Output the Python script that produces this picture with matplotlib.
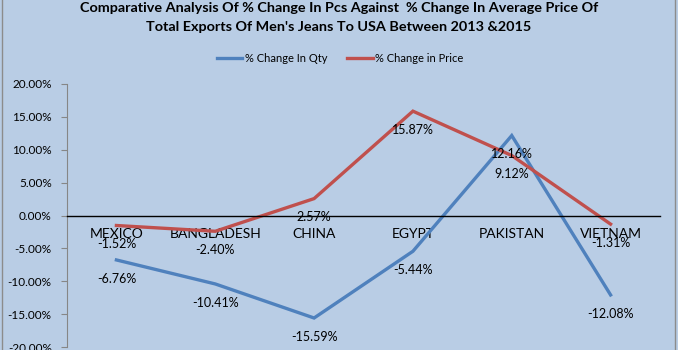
import matplotlib
matplotlib.use("Agg")
import matplotlib.pyplot as plt
from matplotlib.patches import Rectangle
from matplotlib.ticker import FuncFormatter

categories = ["MEXICO", "BANGLADESH", "CHINA", "EGYPT", "PAKISTAN", "VIETNAM"]
qty_change = [-6.76, -10.41, -15.59, -5.44, 12.16, -12.08]
price_change = [-1.52, -2.40, 2.57, 15.87, 9.12, -1.31]
yticks = [-20, -15, -10, -5, 0, 5, 10, 15, 20]

BG = "#B9CDE5"
BLUE = "#4F81BD"
RED = "#C0504D"
FONT = ["Lato", "DejaVu Sans"]

plt.rcParams['font.family'] = FONT

fig = plt.figure(figsize=(6.78, 3.5), dpi=100)
fig.patch.set_facecolor(BG)
fig.patches.append(Rectangle((0.003, -0.01), 0.993, 1.02, transform=fig.transFigure,
                             fill=False, edgecolor="#8C8C8C", linewidth=1.0))

W, H = 678, 350
left, right, top, bottom = 67, 660, 84, 347
ax = fig.add_axes([left / W, 1 - bottom / H, (right - left) / W, (bottom - top) / H])
ax.set_facecolor(BG)

x = list(range(len(categories)))
ax.plot(x, qty_change, color=BLUE, lw=2.4, label="% Change In Qty", solid_joinstyle="miter")
ax.plot(x, price_change, color=RED, lw=2.4, label="% Change in Price", solid_joinstyle="miter")

for xi, v in zip(x, qty_change):
    ax.annotate(f"{v:.2f}%", (xi, v), xytext=(0, -13.5), textcoords="offset points",
                ha="center", va="center", fontsize=9, color="black")
for xi, v in zip(x, price_change):
    ax.annotate(f"{v:.2f}%", (xi, v), xytext=(0, -13.5), textcoords="offset points",
                ha="center", va="center", fontsize=9, color="black")

ax.set_xlim(-0.5, len(categories) - 0.5)
ax.set_ylim(-20, 20)
ax.set_yticks(yticks)
ax.yaxis.set_major_formatter(FuncFormatter(lambda v, p: f"{v:.2f}%"))
ax.tick_params(axis="y", labelsize=8.5, length=4, color="#868686", direction="out", pad=7)

ax.set_xticks(x)
ax.set_xticklabels(categories, fontsize=7, fontweight="bold")
ax.tick_params(axis="x", length=0, pad=9)

for s in ["top", "right"]:
    ax.spines[s].set_visible(False)
ax.spines["left"].set_color("#868686")
ax.spines["bottom"].set_position(("data", 0))
ax.spines["bottom"].set_color("black")
ax.spines["bottom"].set_linewidth(1.0)

fig.text(0.5, 1 - 8 / H, "Comparative Analysis Of % Change In Pcs Against  % Change In Average Price Of",
         ha="center", va="center", fontsize=10.4, fontweight="bold")
fig.text(0.5, 1 - 27 / H, "Total Exports Of Men's Jeans To USA Between 2013 &2015",
         ha="center", va="center", fontsize=10.4, fontweight="bold")

fig.legend(loc="center", bbox_to_anchor=(340 / W, 1 - 58 / H), ncol=2, frameon=False,
           fontsize=8, handlelength=2.3, handletextpad=0.2, columnspacing=1.8)

fig.savefig("out.png", dpi=100, facecolor=BG)
